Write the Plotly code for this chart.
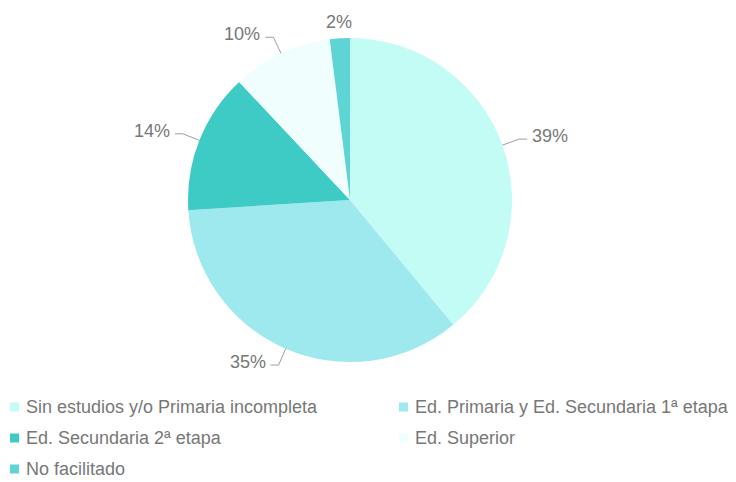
import math
import plotly.graph_objects as go

categories = [
    "Sin estudios y/o Primaria incompleta",
    "Ed. Primaria y Ed. Secundaria 1ª etapa",
    "Ed. Secundaria 2ª etapa",
    "Ed. Superior",
    "No facilitado",
]
values = [39, 35, 14, 10, 2]
colors = ["#c3fbf5", "#9ee9ee", "#3ecbc5", "#f0fefe", "#5fd4d4"]

W, H = 736, 482
cx, cy, R = 350, 200, 162
text_color = "#777777"
font_family = "Liberation Sans, Arial, Helvetica, sans-serif"
FS = 18

fig = go.Figure()
fig.add_trace(go.Pie(
    labels=categories,
    values=values,
    marker=dict(colors=colors, line=dict(width=0)),
    sort=False,
    direction="clockwise",
    rotation=0,
    textinfo="none",
    hoverinfo="label+percent",
    showlegend=False,
    domain=dict(x=[(cx - R) / W, (cx + R) / W], y=[1 - (cy + R) / H, 1 - (cy - R) / H]),
))

def px2paper(x, y):
    return x / W, 1 - y / H

# Leader lines + outside labels computed from the data
total = sum(values)
cum = 0
annotations = []
shapes = []
for v in values:
    mid = (cum + v / 2) / total * 2 * math.pi
    cum += v
    s, c = math.sin(mid), math.cos(mid)
    px, py = cx + R * s, cy - R * c
    ex, ey = cx + R * 1.11 * s, cy - R * 1.11 * c
    label = f"{round(100 * v / total)}%"
    if abs(s) < 0.2:
        ax, ay = px2paper(ex, ey + 1)
        annotations.append(dict(x=ax, y=ay, xref="paper", yref="paper",
                                text=label, showarrow=False, xanchor="center", yanchor="middle",
                                font=dict(size=FS, color=text_color, family=font_family)))
        continue
    side = 1 if s > 0 else -1
    hx = ex + side * 8
    p1, e1, h1 = px2paper(px, py), px2paper(ex, ey), px2paper(hx, ey)
    shapes.append(dict(type="path", xref="paper", yref="paper",
                       path=f"M {p1[0]},{p1[1]} L {e1[0]},{e1[1]} L {h1[0]},{h1[1]}",
                       line=dict(color="#9e9e9e", width=1)))
    tx, ty = px2paper(hx + side * 3, ey - 3)
    annotations.append(dict(x=tx, y=ty, xref="paper", yref="paper",
                            text=label, showarrow=False,
                            xanchor="left" if side > 0 else "right", yanchor="middle",
                            font=dict(size=FS, color=text_color, family=font_family)))

# Legend (two columns below the pie)
col_w, row_h, leg_x, leg_y, sq = 389, 31, 10, 407, 9
for i, (name, col) in enumerate(zip(categories, colors)):
    c_i, r_i = i % 2, i // 2
    x0 = leg_x + c_i * col_w
    yc = leg_y + r_i * row_h
    a, b = px2paper(x0, yc - sq / 2)
    a2, b2 = px2paper(x0 + sq, yc + sq / 2)
    shapes.append(dict(type="rect", xref="paper", yref="paper", x0=a, x1=a2, y0=b2, y1=b,
                       fillcolor=col, line=dict(width=0)))
    tx, ty = px2paper(x0 + sq + 5, yc)
    annotations.append(dict(x=tx, y=ty, xref="paper", yref="paper", text=name,
                            showarrow=False, xanchor="left", yanchor="middle",
                            font=dict(size=FS, color=text_color, family=font_family)))

fig.update_layout(
    width=W, height=H,
    margin=dict(l=0, r=0, t=0, b=0, autoexpand=False),
    paper_bgcolor="white",
    plot_bgcolor="white",
    annotations=annotations,
    shapes=shapes,
    showlegend=False,
)

fig.write_html("out.html", config={"displayModeBar": False},
               post_script="document.body.style.margin='0';document.body.style.overflow='hidden';")
